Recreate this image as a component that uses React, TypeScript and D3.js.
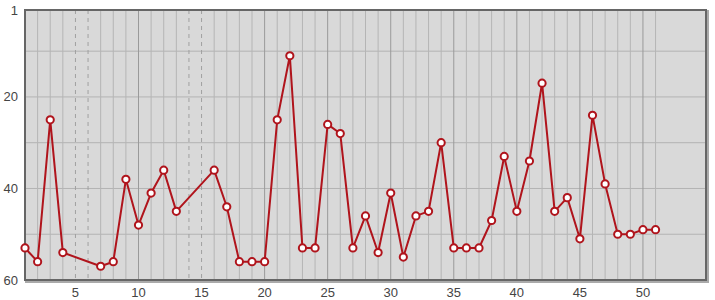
import React from "react";
import * as d3 from "d3";

const rounds: number[] = [1, 2, 3, 4, 7, 8, 9, 10, 11, 12, 13, 16, 17, 18, 19, 20, 21, 22, 23, 24, 25, 26, 27, 28, 29, 30, 31, 32, 33, 34, 35, 36, 37, 38, 39, 40, 41, 42, 43, 44, 45, 46, 47, 48, 49, 50, 51];
const ranks: number[] = [53, 56, 25, 54, 57, 56, 38, 48, 41, 36, 45, 36, 44, 56, 56, 56, 25, 11, 53, 53, 26, 28, 53, 46, 54, 41, 55, 46, 45, 30, 53, 53, 53, 47, 33, 45, 34, 17, 45, 42, 51, 24, 39, 50, 50, 49, 49];
const xTickLabels: number[] = [5, 10, 15, 20, 25, 30, 35, 40, 45, 50];
const yTickLabels: number[] = [1, 20, 40, 60];
const yGridValues: number[] = [10, 20, 30, 40, 50];
const maxRound = 51;

export default function App() {
  const W = 715, H = 300;
  const left = 25, right = 706, top = 10, bottom = 280;
  const x = d3.scaleLinear().domain([1, 55]).range([left, right]);
  const y = d3.scaleLinear().domain([1, 60]).range([top, bottom]);
  const present = new Set(rounds);
  const data = rounds.map((r, i) => ({ r, v: ranks[i] }));
  const line = d3.line<{ r: number; v: number }>().x(d => x(d.r)).y(d => y(d.v));
  const font = "'Liberation Sans', Arial, sans-serif";
  const verticals = d3.range(2, maxRound + 1);
  return (
    <svg width={W} height={H} style={{ position: "absolute", left: 0, top: 0 }}>
      <rect x={left + 1} y={top + 1} width={right - left + 1} height={bottom - top + 1} fill="none" stroke="#aaaaaa" strokeWidth={2} />
      <rect x={left} y={top} width={right - left} height={bottom - top} fill="#d9d9d9" />
      {yGridValues.map(v => (
        <line key={"h" + v} x1={left} x2={right} y1={y(v)} y2={y(v)} stroke="#b3b3b3" strokeWidth={1} />
      ))}
      {verticals.map(r => {
        const miss = !present.has(r);
        const dark = r % 5 === 0;
        return (
          <line
            key={"v" + r}
            x1={x(r)} x2={x(r)} y1={top} y2={bottom}
            stroke={miss ? "#a0a0a0" : dark ? "#9a9a9a" : "#b5b5b5"}
            strokeWidth={1}
            strokeDasharray={miss ? "4,4" : undefined}
          />
        );
      })}
      <rect x={left} y={top} width={right - left} height={bottom - top} fill="none" stroke="#666666" strokeWidth={2} />
      <path d={line(data) || ""} fill="none" stroke="#b0141c" strokeWidth={2} strokeLinejoin="round" />
      {data.map(d => (
        <circle key={"c" + d.r} cx={x(d.r)} cy={y(d.v)} r={3.6} fill="#ffffff" stroke="#b0141c" strokeWidth={2} />
      ))}
      {yTickLabels.map(v => (
        <text key={"yl" + v} x={18} y={y(v)} dy="0.35em" textAnchor="end" fontFamily={font} fontSize={13} fill="#444">{v}</text>
      ))}
      {xTickLabels.map(v => (
        <text key={"xl" + v} x={x(v)} y={297} textAnchor="middle" fontFamily={font} fontSize={13} fill="#444">{v}</text>
      ))}
    </svg>
  );
}
